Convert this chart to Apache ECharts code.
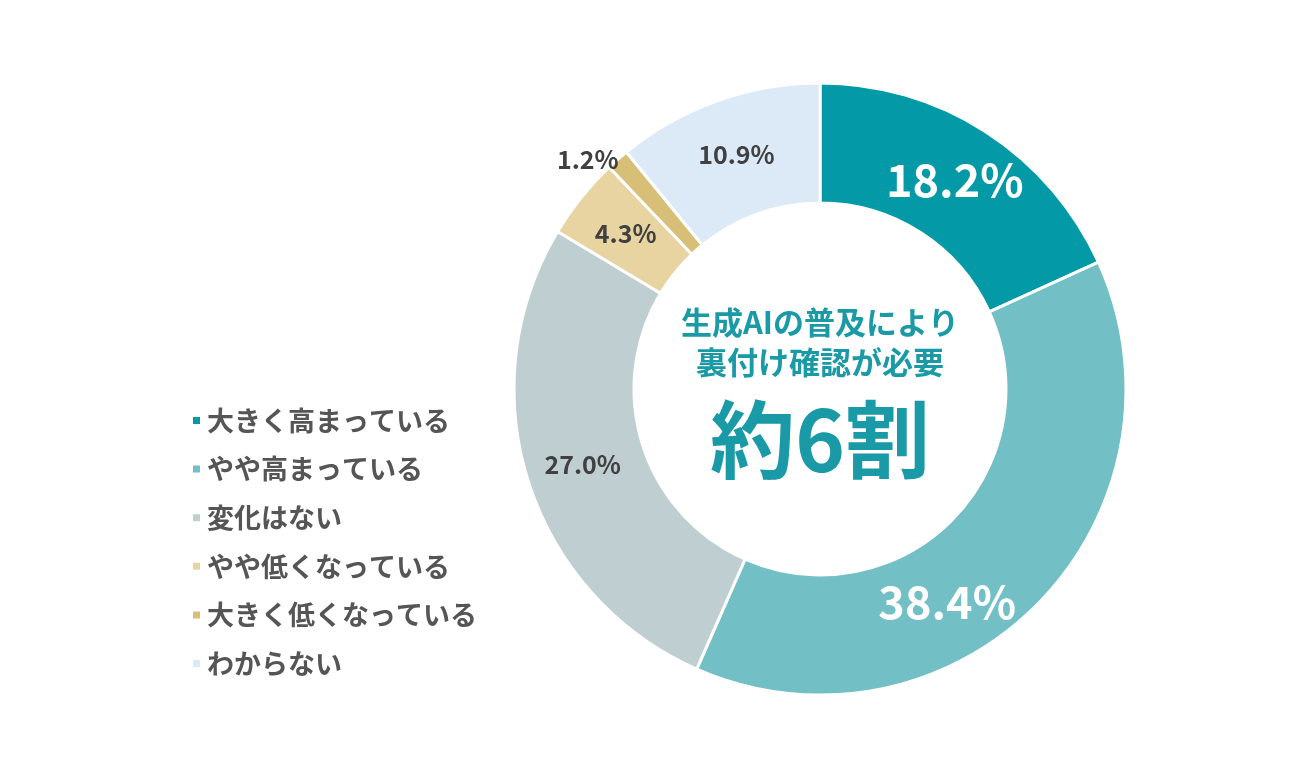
<!DOCTYPE html>
<html>
<head>
<meta charset="utf-8">
<script src="https://cdn.jsdelivr.net/npm/echarts@6/dist/echarts.min.js"></script>
<style>
html,body{margin:0;padding:0;background:#fff;}
#main{width:1300px;height:780px;}
</style>
</head>
<body>
<div id="main"></div>
<script>
const categories = ['大きく高まっている','やや高まっている','変化はない','やや低くなっている','大きく低くなっている','わからない'];
const values = [18.2, 38.4, 27.0, 4.3, 1.2, 10.9];
const colors = ['#0499A6','#72BFC6','#BFCFD1','#E8D4A1','#D8BF78','#DCE9F6'];
const centerLines = ['生成AIの普及により','裏付け確認が必要','約6割'];

const FONT = '"Noto Sans CJK JP", "Noto Sans", sans-serif';
const bigLabel = {color:'#fff', fontSize:45, fontWeight:'bold'};
const smallLabel = {color:'#404040', fontSize:25, fontWeight:'bold'};
const labelStyles = [
  bigLabel,
  Object.assign({}, bigLabel, {padding:[0,100,0,0], lineHeight:76, shift:'down'}),
  smallLabel,
  smallLabel,
  Object.assign({}, smallLabel, {position:'outside', distanceToLabelLine:-1}),
  smallLabel
];

const chart = echarts.init(document.getElementById('main'));
chart.setOption({
  animation:false,
  textStyle:{fontFamily:FONT},
  color: colors,
  legend:{
    orient:'vertical',
    left:186,
    top:402,
    icon:'rect',
    itemWidth:9,
    itemHeight:9,
    itemGap:21.6,
    selectedMode:false,
    textStyle:{fontSize:27, lineHeight:27, color:'#555555', fontWeight:'bold', fontFamily:FONT, padding:[0,0,0,1]},
    data: categories
  },
  graphic:[
    {type:'text', x:820, y:322, style:{text:centerLines[0], fill:'#1A9AA6', font:'bold 31px '+FONT, align:'center', verticalAlign:'middle'}},
    {type:'text', x:820, y:362, style:{text:centerLines[1], fill:'#1A9AA6', font:'bold 31px '+FONT, align:'center', verticalAlign:'middle'}},
    {type:'text', x:820, y:440, style:{text:centerLines[2], fill:'#1A9AA6', font:'bold 85px '+FONT, align:'center', verticalAlign:'middle'}}
  ],
  series:[{
    type:'pie',
    center:[820,389],
    radius:[186,306],
    startAngle:90,
    clockwise:true,
    avoidLabelOverlap:false,
    itemStyle:{borderColor:'#fff', borderWidth:3},
    label:{show:true, position:'inside', fontFamily:FONT},
    labelLine:{show:false, length:0, length2:0},
    emphasis:{disabled:true},
    data: categories.map(function(c,i){
      const st = Object.assign({}, labelStyles[i]);
      const shift = st.shift; delete st.shift;
      st.formatter = function(p){
        const t = p.value.toFixed(1)+'%';
        return shift==='down' ? ' \n'+t : t;
      };
      return {name:c, value:values[i], label:st, labelLine:{show:false, length:0, length2:0}};
    })
  }]
});
</script>
</body>
</html>
